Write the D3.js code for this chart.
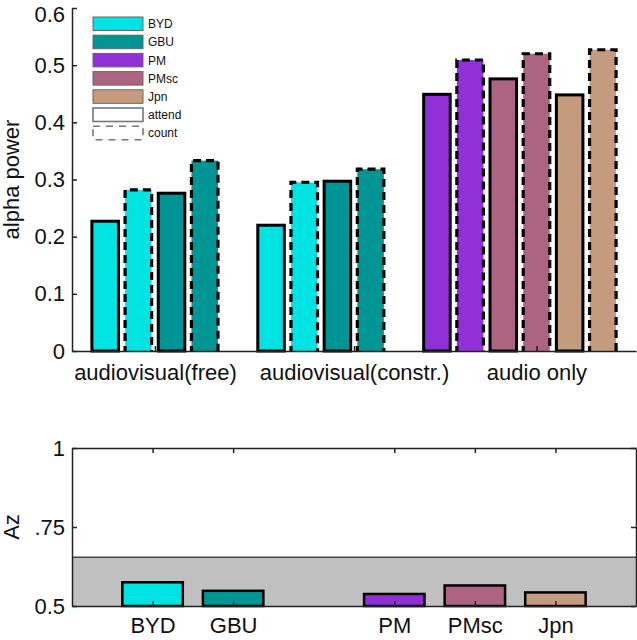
<!DOCTYPE html>
<html>
<head>
<meta charset="utf-8">
<script src="https://cdn.jsdelivr.net/npm/d3@7"></script>
<style>
  html, body { margin: 0; padding: 0; background: #fff; }
  svg { display: block; }
  text { font-family: "Liberation Sans", Arial, Helvetica, sans-serif; fill: #111; }
</style>
</head>
<body>
<script>
// ---------------- data ----------------
const conditions = ["audiovisual(free)", "audiovisual(constr.)", "audio only"];
const conditionTickSlots = [1.5, 7.5, 13];
const groupStimuli = [["BYD", "GBU"], ["BYD", "GBU"], ["PM", "PMsc", "Jpn"]];
const attendAlpha = [[0.227, 0.276], [0.220, 0.297], [0.449, 0.476, 0.448]];
const countAlpha  = [[0.282, 0.333], [0.295, 0.318], [0.509, 0.520, 0.527]];
const alphaTicks = [0, 0.1, 0.2, 0.3, 0.4, 0.5, 0.6];

const azStimuli = ["BYD", "GBU", "PM", "PMsc", "Jpn"];
const azValues  = [0.575, 0.548, 0.538, 0.565, 0.543];
const azChance  = 0.654;
const azTicks = [0.5, 0.75, 1];
const azTickLabels = ["0.5", ".75", "1"];

const stimulusColors = {
  BYD: "#00e3e3", GBU: "#009595", PM: "#9230d8", PMsc: "#ad6482", Jpn: "#c49b7d"
};
const legendItems = ["BYD", "GBU", "PM", "PMsc", "Jpn", "attend", "count"];

// ---------------- layout ----------------
const W = 637, H = 640;
const svg = d3.select("body").append("svg").attr("width", W).attr("height", H);
svg.append("rect").attr("width", W).attr("height", H).attr("fill", "#fff");
const FS = 22;

// ================= TOP CHART =================
const xTop = d3.scaleLinear().domain([-1, 16]).range([72, 636]);
const yTop = d3.scaleLinear().domain([0, 0.6]).range([351, 8]);

const topBars = [];
groupStimuli.forEach((stims, g) => {
  stims.forEach((s, k) => {
    const base = g * 5 + k * 2;
    topBars.push({ stim: s, task: "attend", value: attendAlpha[g][k], slot: base });
    topBars.push({ stim: s, task: "count", value: countAlpha[g][k], slot: base + 1 });
  });
});
const halfW = 0.4;

const topG = svg.append("g");
topG.selectAll("rect.bar").data(topBars).join("rect")
  .attr("class", "bar")
  .attr("x", d => xTop(d.slot - halfW))
  .attr("width", d => xTop(d.slot + halfW) - xTop(d.slot - halfW))
  .attr("y", d => yTop(d.value))
  .attr("height", d => yTop(0) - yTop(d.value))
  .attr("fill", d => stimulusColors[d.stim])
  .attr("stroke", d => d.task === "attend" ? "#000" : "none")
  .attr("stroke-width", 3);
topG.selectAll("path.dash").data(topBars.filter(d => d.task === "count")).join("path")
  .attr("class", "dash")
  .attr("d", d => {
    const x0 = xTop(d.slot - halfW), x1 = xTop(d.slot + halfW);
    const y0 = yTop(0), y1 = yTop(d.value);
    return `M${x0},${y0}V${y1}H${x1}V${y0}`;
  })
  .attr("fill", "none")
  .attr("stroke", "#000")
  .attr("stroke-width", 3.2)
  .attr("stroke-dasharray", "8,5")
  .attr("stroke-dashoffset", 3);

const yAxisTop = d3.axisLeft(yTop).tickValues(alphaTicks)
  .tickSizeInner(-5).tickSizeOuter(0).tickPadding(7)
  .tickFormat(d => d === 0 ? "0" : d3.format(".1f")(d));
const gy = topG.append("g").attr("transform", `translate(${xTop(-1)},0)`).call(yAxisTop);
gy.selectAll("text").attr("font-size", FS).attr("fill", "#111");
gy.selectAll(".tick text").filter(d => d === 0.6).attr("dy", "0.6em");
gy.selectAll("line, path").attr("stroke", "#222").attr("stroke-width", 1.5);

const xAxisTop = d3.axisBottom(xTop).tickValues(conditionTickSlots)
  .tickSizeInner(-5).tickSizeOuter(0).tickPadding(13)
  .tickFormat((d, i) => conditions[i]);
const gx = topG.append("g").attr("transform", `translate(0,${yTop(0)})`).call(xAxisTop);
gx.selectAll("text").attr("font-size", FS).attr("fill", "#111");
gx.selectAll("line, path").attr("stroke", "#222").attr("stroke-width", 1.5);

topG.append("text")
  .attr("transform", `translate(19,${(yTop(0) + yTop(0.6)) / 2}) rotate(-90)`)
  .attr("text-anchor", "middle")
  .attr("font-size", FS)
  .text("alpha power");

const leg = topG.append("g").attr("transform", "translate(93,17)");
const legRows = leg.selectAll("g").data(legendItems).join("g")
  .attr("transform", (d, i) => `translate(0,${i * 18.2})`);
legRows.append("rect")
  .attr("x", 0).attr("y", 0).attr("width", 50).attr("height", 13.5)
  .attr("fill", d => stimulusColors[d] || "#fff")
  .attr("stroke", d => stimulusColors[d] ? "#666" : "#777")
  .attr("stroke-width", d => stimulusColors[d] ? 1 : 1.6)
  .attr("stroke-dasharray", d => d === "count" ? "7,6" : null);
legRows.append("text")
  .attr("x", 55).attr("y", 7).attr("dy", "0.35em")
  .attr("font-size", 12)
  .attr("fill", "#333")
  .text(d => d);

// ================= BOTTOM CHART =================
const xBot = d3.scaleLinear().domain([-1, 6]).range([72, 636]);
const yBot = d3.scaleLinear().domain([0.5, 1]).range([606, 448]);
const azSlot = i => (i < 2 ? i : i + 1);
const azData = azStimuli.map((s, i) => ({ stim: s, value: azValues[i], slot: azSlot(i) }));
const bHalf = 0.375;

const botG = svg.append("g");
botG.append("rect")
  .attr("x", xBot(-1)).attr("width", xBot(6) - xBot(-1))
  .attr("y", yBot(azChance)).attr("height", yBot(0.5) - yBot(azChance))
  .attr("fill", "#c0c0c0");
botG.append("line")
  .attr("x1", xBot(-1)).attr("x2", xBot(6))
  .attr("y1", yBot(azChance)).attr("y2", yBot(azChance))
  .attr("stroke", "#444").attr("stroke-width", 1.5);

botG.selectAll("rect.az").data(azData).join("rect")
  .attr("class", "az")
  .attr("x", d => xBot(d.slot - bHalf))
  .attr("width", d => xBot(d.slot + bHalf) - xBot(d.slot - bHalf))
  .attr("y", d => yBot(d.value))
  .attr("height", d => yBot(0.5) - yBot(d.value))
  .attr("fill", d => stimulusColors[d.stim])
  .attr("stroke", "#000").attr("stroke-width", 2.5);

const axStyle = g => {
  g.selectAll("line, path").attr("stroke", "#222").attr("stroke-width", 1.5);
  g.selectAll("text").attr("font-size", FS).attr("fill", "#111");
};
botG.append("g").attr("transform", `translate(0,${yBot(0.5)})`)
  .call(d3.axisBottom(xBot).tickValues(azData.map(d => d.slot))
    .tickSizeInner(-5).tickSizeOuter(0).tickPadding(11)
    .tickFormat((d, i) => azStimuli[i]))
  .call(axStyle);
botG.append("g").attr("transform", `translate(0,${yBot(1)})`)
  .call(d3.axisTop(xBot).tickValues(azData.map(d => d.slot))
    .tickSizeInner(-5).tickSizeOuter(0).tickFormat(""))
  .call(axStyle);
botG.append("g").attr("transform", `translate(${xBot(-1)},0)`)
  .call(d3.axisLeft(yBot).tickValues(azTicks)
    .tickSizeInner(-5).tickSizeOuter(0).tickPadding(7)
    .tickFormat((d, i) => azTickLabels[i]))
  .call(axStyle);
botG.append("g").attr("transform", `translate(${xBot(6)},0)`)
  .call(d3.axisRight(yBot).tickValues(azTicks)
    .tickSizeInner(-5).tickSizeOuter(0).tickFormat(""))
  .call(axStyle);

botG.append("text")
  .attr("transform", `translate(19,${yBot(0.75)}) rotate(-90)`)
  .attr("text-anchor", "middle")
  .attr("font-size", FS)
  .text("Az");
</script>
</body>
</html>
